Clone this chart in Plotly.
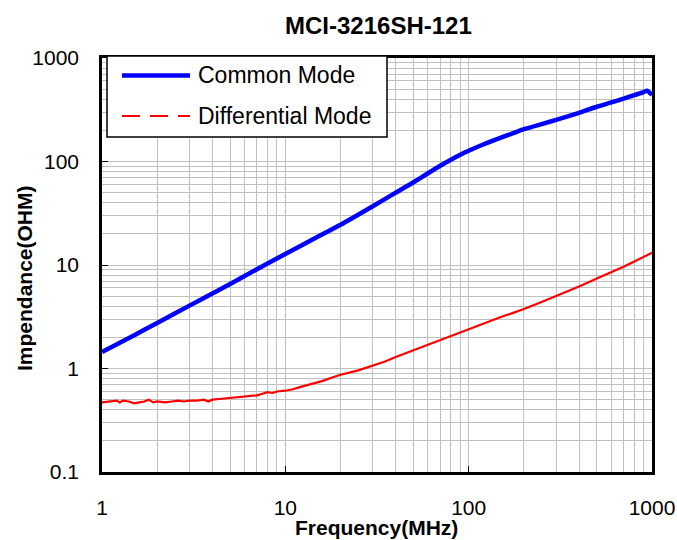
import plotly.graph_objects as go

# ---- data ----
freq_cm = [1, 1.5, 2, 3, 4, 5, 7, 10, 15, 20, 30, 40, 50, 60, 70, 80, 90, 100,
           120, 150, 175, 200, 250, 300, 400, 500, 600, 700, 800, 900, 940, 1000]
z_cm = [1.44, 2.1, 2.75, 4.05, 5.3, 6.55, 9.1, 12.8, 18.7, 24.5, 37, 50, 63, 77,
        91, 104, 116, 127, 146, 170, 188, 205, 230, 252, 295, 338, 372, 405, 438,
        468, 483, 440]

freq_dm = [1, 1.1, 1.2, 1.25, 1.3, 1.4, 1.5, 1.6, 1.7, 1.8, 1.9, 2.0, 2.2, 2.4,
           2.6, 2.8, 3, 3.3, 3.6, 3.8, 4, 4.5, 5, 5.5, 6, 6.5, 7, 7.5, 8, 8.5, 9,
           10, 11, 12, 14, 16, 18, 20, 25, 30, 35, 40, 50, 60, 70, 80, 100, 120,
           150, 175, 200, 250, 300, 400, 500, 600, 700, 800, 900, 1000]
z_dm = [0.47, 0.48, 0.49, 0.47, 0.49, 0.48, 0.46, 0.47, 0.48, 0.50, 0.47, 0.48,
        0.47, 0.48, 0.49, 0.48, 0.49, 0.49, 0.50, 0.48, 0.50, 0.51, 0.52, 0.53,
        0.53, 0.54, 0.55, 0.57, 0.59, 0.58, 0.60, 0.61, 0.63, 0.66, 0.71, 0.76,
        0.82, 0.87, 0.96, 1.06, 1.17, 1.29, 1.50, 1.70, 1.90, 2.08, 2.40, 2.72,
        3.15, 3.45, 3.75, 4.40, 5.00, 6.20, 7.40, 8.50, 9.60, 10.8, 11.9, 13.1]

x_ticks = [1, 10, 100, 1000]
y_ticks = [0.1, 1, 10, 100, 1000]
x_labels = ["1", "10", "100", "1000"]
y_labels = ["0.1", "1", "10", "100", "1000"]

FONT = "Liberation Sans, Arial, sans-serif"
GRID = "#c0c0c0"

fig = go.Figure()
fig.add_trace(go.Scatter(x=freq_cm, y=z_cm, mode="lines", name="Common Mode",
                         line=dict(color="#0000ff", width=4.5, shape="spline",
                                   smoothing=0.6), showlegend=False))
fig.add_trace(go.Scatter(x=freq_dm, y=z_dm, mode="lines", name="Differential Mode",
                         line=dict(color="#ff0000", width=2.2), showlegend=False))

axis_common = dict(
    type="log", showline=True, linecolor="black", linewidth=2.5, mirror=True,
    ticks="inside", ticklen=6, tickcolor="black", tickwidth=1,
    showgrid=True, gridcolor=GRID, gridwidth=1,
    minor=dict(dtick="D1", showgrid=True, gridcolor=GRID, gridwidth=1, ticks=""),
    tickfont=dict(family=FONT, size=21, color="black"), zeroline=False,
    automargin=False,
)

fig.update_xaxes(**axis_common, range=[0, 3], tickvals=x_ticks, ticktext=x_labels,
                 ticklabelstandoff=15)
fig.update_yaxes(**axis_common, range=[-1, 3], tickvals=y_ticks, ticktext=y_labels,
                 ticklabelstandoff=16)

# pixel -> paper helpers
def px_x(x):
    return (x - 102) / 550

def px_y(y):
    return (472 - y) / 414

shapes = [
    dict(type="rect", xref="paper", yref="paper", x0=px_x(107), x1=px_x(387),
         y0=px_y(137), y1=px_y(56), line=dict(color="black", width=1.5),
         fillcolor="white", layer="above"),
    dict(type="line", xref="paper", yref="paper", x0=px_x(122), x1=px_x(190),
         y0=px_y(75.5), y1=px_y(75.5), line=dict(color="#0000ff", width=4.5),
         layer="above"),
    dict(type="line", xref="paper", yref="paper", x0=px_x(122), x1=px_x(190),
         y0=px_y(116), y1=px_y(116), line=dict(color="#ff0000", width=2,
                                               dash="18px,10px"),
         layer="above"),
]
annotations = [
    dict(text="Common Mode", xref="paper", yref="paper", x=px_x(196), y=px_y(75.5),
         xanchor="left", yanchor="middle", showarrow=False,
         font=dict(family=FONT, size=23, color="black")),
    dict(text="Differential Mode", xref="paper", yref="paper", x=px_x(196),
         y=px_y(116), xanchor="left", yanchor="middle", showarrow=False,
         font=dict(family=FONT, size=23, color="black")),
    dict(text="<b>Frequency(MHz)</b>", xref="paper", yref="paper", x=px_x(376),
         y=px_y(527), xanchor="center", yanchor="middle", showarrow=False,
         font=dict(family=FONT, size=21, color="black")),
    dict(text="<b>Impendance(OHM)</b>", xref="paper", yref="paper", x=px_x(24),
         y=px_y(278), xanchor="center", yanchor="middle", showarrow=False,
         textangle=-90, font=dict(family=FONT, size=21, color="black")),
    dict(text="<b>MCI-3216SH-121</b>", xref="paper", yref="paper", x=px_x(378),
         y=px_y(25), xanchor="center", yanchor="middle", showarrow=False,
         font=dict(family=FONT, size=24, color="black")),
]

fig.update_layout(
    width=677, height=540,
    margin=dict(l=102, r=25, t=58, b=68),
    paper_bgcolor="white", plot_bgcolor="white",
    shapes=shapes, annotations=annotations,
    showlegend=False,
)

fig.write_html(
    "out.html",
    config={"displayModeBar": False},
    post_script="document.body.style.margin='0';document.body.style.overflow='hidden';",
)
